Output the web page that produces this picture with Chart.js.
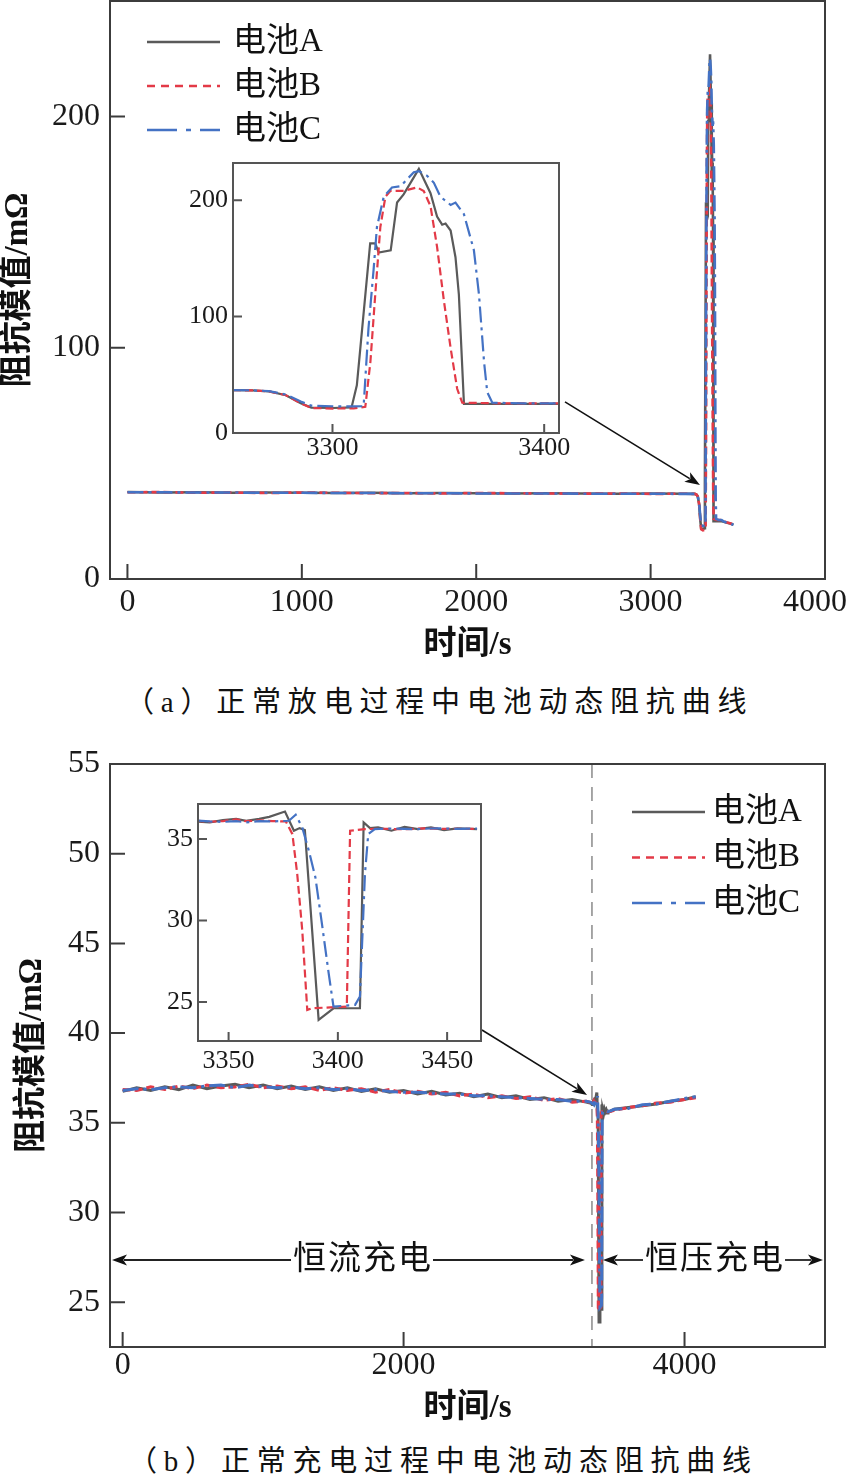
<!DOCTYPE html>
<html>
<head>
<meta charset="utf-8">
<script src="https://cdn.jsdelivr.net/npm/chart.js@4.4.0/dist/chart.umd.min.js"></script>
<style>
  html, body { margin: 0; padding: 0; background: #fff; }
  #page { position: relative; width: 851px; height: 1481px; overflow: hidden; }
  canvas { position: absolute; }
  .cap { position: absolute; font-family: 'Liberation Serif', 'Noto Sans CJK SC', serif; font-size: 29px;
         letter-spacing: 6.8px; color: #111; white-space: nowrap; line-height: 1; }
</style>
</head>
<body>
<div id="page">
  <canvas id="mainA" style="left:0;top:0" width="851" height="675"></canvas>
  <canvas id="insetA" style="left:160px;top:150px" width="420" height="320"></canvas>
  <div class="cap" style="left:125px;top:688px">（a）正常放电过程中电池动态阻抗曲线</div>
  <canvas id="mainB" style="left:0;top:740px" width="851" height="690"></canvas>
  <canvas id="insetB" style="left:150px;top:790px" width="350" height="300"></canvas>
  <div class="cap" style="left:128px;top:1447px">（b）正常充电过程中电池动态阻抗曲线</div>
</div>
<script>
// ---- (a) 放电 ----
const seriesNames = ["电池A", "电池B", "电池C"];

const aPreTime = [0, 200, 400, 600, 800, 1000, 1200, 1400, 1600, 1800, 2000, 2200, 2400, 2600, 2800, 3000, 3200];
const aPreA = [37.6, 37.4, 37.5, 37.3, 37.4, 37.3, 37.2, 37.3, 37.1, 37.2, 37.1, 37.0, 37.1, 37.0, 36.9, 37.0, 36.9];
const aPreB = [37.5, 37.6, 37.3, 37.4, 37.2, 37.4, 37.3, 37.1, 37.2, 37.0, 37.2, 37.1, 37.0, 36.9, 37.0, 36.8, 36.9];
const aPreC = [37.5, 37.5, 37.4, 37.4, 37.3, 37.3, 37.2, 37.2, 37.1, 37.1, 37.0, 37.0, 37.0, 36.9, 36.9, 36.9, 36.8];

const aZoomTimeA = [3253, 3262, 3270, 3278, 3285, 3290, 3300, 3309, 3311.5, 3317.8, 3320.2, 3321.8, 3327.5, 3330.5, 3333.6, 3340.8, 3346.3, 3349.4, 3351.8, 3353.4, 3355.8, 3358.1, 3359.7, 3362.1, 3380, 3407];
const aZoomA     = [36.8, 36.6, 35.8, 32.5, 25.5, 21.8, 21.5, 22.0, 41, 163, 163, 155, 157, 198, 205, 227, 206, 186, 179, 180, 174, 151, 119, 25, 25, 25];
const aZoomTimeB = [3253, 3262, 3270, 3278, 3285, 3290, 3300, 3310, 3315.5, 3317.9, 3320.2, 3322.6, 3325, 3327.3, 3333.6, 3340, 3343.1, 3346.3, 3349.4, 3352.6, 3355.8, 3358.9, 3361.3, 3380, 3407];
const aZoomB     = [36.8, 36.6, 35.8, 32.5, 25.5, 21.5, 21.0, 21.2, 22.5, 61, 119, 177, 203, 208, 208, 211, 208, 195, 160, 114, 73, 38, 26, 25.5, 25.5];
const aZoomTimeC = [3253, 3262, 3270, 3278, 3285, 3290, 3300, 3310, 3314.7, 3317, 3319.4, 3321, 3324.2, 3328.1, 3332.1, 3338.4, 3340.8, 3344.7, 3347.9, 3351, 3355.8, 3358.1, 3362.1, 3366.8, 3369.2, 3371.6, 3373.1, 3375.5, 3390, 3407];
const aZoomC     = [36.8, 36.7, 36.0, 33.0, 27.0, 23.5, 23.0, 22.8, 23, 90, 140, 177, 203, 211, 212, 224, 225, 221, 215, 203, 196, 198, 188, 157, 119, 61, 35, 26, 25.5, 25.5];

const aPostTime = [3420, 3440, 3460, 3475];
const aPostA = [24.8, 24.3, 23.9, 23.5];
const aPostB = [24.9, 24.4, 24.0, 23.6];
const aPostC = [24.8, 24.4, 23.9, 23.4];

const aXTicks = [0, 1000, 2000, 3000, 4000];
const aYTicks = [0, 100, 200];
const aInsetXTicks = [3300, 3400];
const aInsetYTicks = [0, 100, 200];

// ---- (b) 充电 ----
const bPreTime = [0, 100, 200, 300, 400, 500, 600, 700, 800, 900, 1000, 1100, 1200, 1300, 1400, 1500, 1600,
                  1700, 1800, 1900, 2000, 2100, 2200, 2300, 2400, 2500, 2600, 2700, 2800, 2900, 3000, 3100, 3200, 3300];
const bPreA = [36.75, 36.95, 36.8, 37.0, 36.85, 37.1, 36.9, 37.05, 37.15, 36.95, 37.1, 36.9, 37.05, 36.85, 37.0, 36.8, 36.95,
               36.75, 36.9, 36.7, 36.8, 36.6, 36.75, 36.55, 36.65, 36.45, 36.6, 36.4, 36.5, 36.3, 36.4, 36.2, 36.3, 36.15];
const bPreB = [36.85, 36.8, 37.0, 36.85, 37.05, 36.9, 37.1, 36.95, 37.0, 37.15, 36.95, 37.05, 36.9, 37.0, 36.8, 36.95, 36.8,
               36.9, 36.7, 36.85, 36.65, 36.75, 36.6, 36.7, 36.5, 36.6, 36.4, 36.5, 36.35, 36.45, 36.25, 36.35, 36.15, 36.2];
const bPreC = [36.8, 36.9, 36.85, 36.95, 37.0, 36.95, 37.05, 37.1, 36.95, 37.1, 37.0, 36.95, 37.0, 36.9, 36.95, 36.85, 36.9,
               36.8, 36.85, 36.75, 36.7, 36.7, 36.65, 36.6, 36.6, 36.5, 36.5, 36.45, 36.4, 36.35, 36.3, 36.3, 36.2, 36.2];

const bZoomTimeA = [3335.3, 3341.4, 3347.4, 3353.5, 3358, 3364, 3368.6, 3375.8, 3379.9, 3382.5, 3384.9, 3391.2, 3398, 3410.1, 3411.8, 3414.7, 3418.4, 3424.5, 3430.5, 3436.6, 3442.6, 3448.6, 3454.7, 3463.7];
const bZoomA     = [36.08, 36.02, 36.16, 36.24, 36.12, 36.24, 36.36, 36.69, 35.51, 35.67, 35.55, 23.9, 24.61, 24.61, 36.02, 35.67, 35.71, 35.51, 35.75, 35.61, 35.71, 35.55, 35.65, 35.61];
const bZoomTimeB = [3335.3, 3341.4, 3347.4, 3353.5, 3358, 3364, 3370, 3376.2, 3379.2, 3381.4, 3383.7, 3386, 3388.2, 3404.1, 3405.6, 3412.4, 3420, 3430, 3440, 3450, 3463.7];
const bZoomB     = [36.12, 36.06, 36.1, 36.2, 36.1, 36.14, 36.1, 36.08, 35.3, 32.86, 29.4, 24.51, 24.61, 24.71, 35.51, 35.61, 35.63, 35.6, 35.65, 35.62, 35.62];
const bZoomTimeC = [3335.3, 3341.4, 3347.4, 3353.5, 3358, 3364, 3370, 3377.6, 3380.7, 3383.7, 3386.7, 3389.7, 3392.7, 3395.8, 3398, 3407.9, 3410.1, 3412.4, 3413.9, 3416.9, 3425, 3435, 3445, 3455, 3463.7];
const bZoomC     = [36.14, 36.08, 36.05, 36.1, 36.02, 36.1, 36.08, 36.12, 36.49, 35.71, 34.29, 32.66, 29.81, 26.75, 24.71, 24.82, 25.33, 32.86, 35.31, 35.61, 35.65, 35.6, 35.66, 35.62, 35.64];

const bPostTime = [3500, 3600, 3700, 3800, 3900, 4000, 4080];
const bPostA = [35.75, 35.85, 35.95, 36.05, 36.2, 36.3, 36.45];
const bPostB = [35.7, 35.85, 35.95, 36.1, 36.15, 36.3, 36.4];
const bPostC = [35.75, 35.8, 36.0, 36.05, 36.2, 36.35, 36.45];

const bXTicks = [0, 2000, 4000];
const bYTicks = [25, 30, 35, 40, 45, 50, 55];
const bInsetXTicks = [3350, 3400, 3450];
const bInsetYTicks = [25, 30, 35];

// ---- 样式 ----
const FONT = "'Liberation Serif', 'Noto Sans CJK SC', serif";
const COLORS = ["#5a5a5a", "#e33a47", "#4472c4"];
const DASHES = [[], [8, 4], [16, 5, 3, 5]];
const LEGEND_DASHES = [[], [8, 6], [30, 9, 5, 9]];
const ORDERS = [2, 1, 0];

const pts = (ts, vs) => ts.map((t, i) => ({ x: t, y: vs[i] }));

function makeSets(list, width) {
  return list.map((data, i) => ({
    label: seriesNames[i],
    data: data,
    borderColor: COLORS[i],
    borderDash: DASHES[i],
    borderWidth: width,
    pointRadius: 0,
    tension: 0,
    order: ORDERS[i]
  }));
}

function arrow(ctx, x1, y1, x2, y2) {
  const ang = Math.atan2(y2 - y1, x2 - x1), L = 15, W = 5.5;
  const bx = x2 - L * Math.cos(ang), by = y2 - L * Math.sin(ang);
  ctx.beginPath(); ctx.moveTo(x1, y1); ctx.lineTo(bx + 3 * Math.cos(ang), by + 3 * Math.sin(ang)); ctx.stroke();
  ctx.beginPath();
  ctx.moveTo(x2, y2);
  ctx.lineTo(bx - W * Math.sin(ang), by + W * Math.cos(ang));
  ctx.lineTo(x2 - 0.75 * L * Math.cos(ang), y2 - 0.75 * L * Math.sin(ang));
  ctx.lineTo(bx + W * Math.sin(ang), by - W * Math.cos(ang));
  ctx.closePath(); ctx.fill();
}

// 边框 + 朝内刻度 + 刻度文字
const frameTicks = {
  id: 'frameTicks',
  beforeDatasetsDraw(chart, args, o) {
    const { ctx, chartArea: a, scales: { x } } = chart;
    if (o.fill) { ctx.save(); ctx.fillStyle = '#fff'; ctx.fillRect(a.left, a.top, a.right - a.left, a.bottom - a.top); ctx.restore(); }
    if (o.vline !== undefined) {
      const px = x.getPixelForValue(o.vline);
      ctx.save(); ctx.strokeStyle = '#8a8a8a'; ctx.lineWidth = 1.5; ctx.setLineDash([14, 9]);
      ctx.beginPath(); ctx.moveTo(px, a.top); ctx.lineTo(px, a.bottom); ctx.stroke(); ctx.restore();
    }
  },
  afterDatasetsDraw(chart, args, o) {
    const { ctx, chartArea: a, scales: { x, y } } = chart;
    ctx.save();
    ctx.strokeStyle = o.color; ctx.lineWidth = 2;
    ctx.strokeRect(a.left, a.top, a.right - a.left, a.bottom - a.top);
    ctx.beginPath();
    x.ticks.forEach(t => {
      const px = x.getPixelForValue(t.value);
      if (px > a.left + 3 && px < a.right - 3) { ctx.moveTo(px, a.bottom); ctx.lineTo(px, a.bottom - o.tickLen); }
    });
    y.ticks.forEach(t => {
      const py = y.getPixelForValue(t.value);
      if (py > a.top + 3 && py < a.bottom - 3) { ctx.moveTo(a.left, py); ctx.lineTo(a.left + o.tickLen, py); }
    });
    ctx.stroke();
    ctx.fillStyle = '#1a1a1a';
    ctx.font = o.size + 'px ' + FONT;
    ctx.textAlign = 'center'; ctx.textBaseline = 'middle';
    x.ticks.forEach(t => {
      const s = String(t.value), w = ctx.measureText(s).width;
      const px = Math.min(x.getPixelForValue(t.value), chart.width - 4 - w / 2);
      ctx.fillText(s, px, a.bottom + o.xOff);
    });
    ctx.textAlign = 'right';
    y.ticks.forEach(t => ctx.fillText(String(t.value), a.left - o.yPad, y.getPixelForValue(t.value)));
    ctx.restore();
  }
};

// 图例（画在绘图区内）
const lineLegend = {
  id: 'lineLegend',
  afterDraw(chart, args, o) {
    if (!o.show) return;
    const { ctx, chartArea: a } = chart;
    ctx.save();
    ctx.font = o.size + 'px ' + FONT;
    ctx.textAlign = 'left'; ctx.textBaseline = 'middle';
    chart.data.datasets.forEach((ds, i) => {
      const yy = a.top + o.dy + i * o.rowH, x0 = a.left + o.dx;
      ctx.strokeStyle = ds.borderColor; ctx.lineWidth = 2.4; ctx.setLineDash(LEGEND_DASHES[i]);
      ctx.beginPath(); ctx.moveTo(x0, yy); ctx.lineTo(x0 + o.len, yy); ctx.stroke();
      ctx.fillStyle = '#111';
      ctx.fillText(ds.label, x0 + o.len + o.gap, yy);
    });
    ctx.restore();
  }
};

// 箭头与阶段标注
const notes = {
  id: 'notes',
  afterDatasetsDraw(chart, args, o) {
    const { ctx, chartArea: a, scales: { x, y } } = chart;
    ctx.save();
    ctx.strokeStyle = '#111'; ctx.fillStyle = '#111'; ctx.lineWidth = 1.6;
    if (o.arrow) {
      arrow(ctx, x.getPixelForValue(o.arrow.from[0]), y.getPixelForValue(o.arrow.from[1]),
                 x.getPixelForValue(o.arrow.to[0]), y.getPixelForValue(o.arrow.to[1]));
    }
    if (o.phase) {
      const p = o.phase, yy = y.getPixelForValue(p.y), xs = x.getPixelForValue(p.split);
      ctx.font = '33px ' + FONT; ctx.textAlign = 'center'; ctx.textBaseline = 'middle';
      ctx.letterSpacing = '2px';
      ctx.strokeStyle = '#222'; ctx.fillStyle = '#111'; ctx.lineWidth = 1.8;
      const c1 = x.getPixelForValue(p.leftAt), w1 = ctx.measureText(p.leftText).width;
      const c2 = x.getPixelForValue(p.rightAt), w2 = ctx.measureText(p.rightText).width;
      ctx.fillText(p.leftText, c1 + 1, yy);
      ctx.fillText(p.rightText, c2 + 1, yy);
      arrow(ctx, c1 - w1 / 2 - 1, yy, a.left + 2, yy);
      arrow(ctx, c1 + w1 / 2 + 1, yy, xs - 7, yy);
      arrow(ctx, c2 - w2 / 2 - 1, yy, xs + 11, yy);
      arrow(ctx, c2 + w2 / 2 + 1, yy, a.right - 2, yy);
    }
    ctx.restore();
  }
};

function makeChart(id, c) {
  const title = (text, pad) => ({ display: !!text, text: text, color: '#111',
    font: { family: FONT, size: 33, weight: 'bold', lineHeight: 1 }, padding: pad });
  return new Chart(document.getElementById(id), {
    type: 'line',
    data: { datasets: makeSets(c.series, c.lineWidth) },
    options: {
      responsive: false,
      animation: false,
      layout: { padding: c.padding },
      scales: {
        x: {
          type: 'linear', min: c.xRange[0], max: c.xRange[1],
          grid: { display: false }, border: { display: false }, ticks: { display: false },
          afterBuildTicks: s => { s.ticks = c.xTicks.map(v => ({ value: v })); },
          afterFit: s => { s.height = c.xH; s.paddingLeft = 0; s.paddingRight = 0; },
          title: title(c.xTitle, { top: 0, bottom: c.xTitlePad || 0 })
        },
        y: {
          type: 'linear', min: c.yRange[0], max: c.yRange[1],
          grid: { display: false }, border: { display: false }, ticks: { display: false },
          afterBuildTicks: s => { s.ticks = c.yTicks.map(v => ({ value: v })); },
          afterFit: s => { s.width = c.yW; s.paddingTop = 0; s.paddingBottom = 0; },
          title: title(c.yTitle, { top: c.yTitlePad || 0, bottom: 0 })
        }
      },
      plugins: {
        legend: { display: false },
        tooltip: { enabled: false },
        frameTicks: c.frame,
        lineLegend: c.legend || { show: false },
        notes: c.notes || {}
      }
    },
    plugins: [frameTicks, lineLegend, notes]
  });
}

// (a) 主图
makeChart('mainA', {
  series: [
    [...pts(aPreTime, aPreA), ...pts(aZoomTimeA, aZoomA), ...pts(aPostTime, aPostA)],
    [...pts(aPreTime, aPreB), ...pts(aZoomTimeB, aZoomB), ...pts(aPostTime, aPostB)],
    [...pts(aPreTime, aPreC), ...pts(aZoomTimeC, aZoomC), ...pts(aPostTime, aPostC)]
  ],
  lineWidth: 2.6,
  padding: { left: 0, top: 1, right: 26, bottom: 0 },
  xRange: [-100, 4000], yRange: [0, 250], xTicks: aXTicks, yTicks: aYTicks,
  xH: 96, yW: 110, xTitle: '时间/s', xTitlePad: 13, yTitle: '阻抗模值/mΩ', yTitlePad: 2,
  frame: { color: '#3c3c3c', tickLen: 15, size: 32, xOff: 24, yPad: 10 },
  legend: { show: true, dx: 37, dy: 41, rowH: 44, len: 73, gap: 13, size: 33 },
  notes: { arrow: { from: [2509, 76.6], to: [3283, 40.7] } }
});

// (a) 局部放大
makeChart('insetA', {
  series: [pts(aZoomTimeA, aZoomA), pts(aZoomTimeB, aZoomB), pts(aZoomTimeC, aZoomC)],
  lineWidth: 2.2,
  padding: { left: 0, top: 13, right: 21, bottom: 0 },
  xRange: [3253, 3407], yRange: [0, 232], xTicks: aInsetXTicks, yTicks: aInsetYTicks,
  xH: 37, yW: 73,
  frame: { color: '#555', tickLen: 9, size: 26, xOff: 15.5, yPad: 5, fill: true }
});

// (b) 主图
makeChart('mainB', {
  series: [
    [...pts(bPreTime, bPreA), ...pts(bZoomTimeA, bZoomA), ...pts(bPostTime, bPostA)],
    [...pts(bPreTime, bPreB), ...pts(bZoomTimeB, bZoomB), ...pts(bPostTime, bPostB)],
    [...pts(bPreTime, bPreC), ...pts(bZoomTimeC, bZoomC), ...pts(bPostTime, bPostC)]
  ],
  lineWidth: 3,
  padding: { left: 0, top: 24, right: 26, bottom: 0 },
  xRange: [-90, 5000], yRange: [22.5, 55], xTicks: bXTicks, yTicks: bYTicks,
  xH: 83, yW: 110, xTitle: '时间/s', xTitlePad: 5, yTitle: '阻抗模值/mΩ', yTitlePad: 16,
  frame: { color: '#3c3c3c', tickLen: 15, size: 32, xOff: 19, yPad: 10, vline: 3341 },
  legend: { show: true, dx: 522, dy: 48, rowH: 45.5, len: 73, gap: 7, size: 33 },
  notes: {
    arrow: { from: [2558, 40.17], to: [3306, 36.55] },
    phase: { y: 27.35, split: 3341, leftText: '恒流充电', leftAt: 1704, rightText: '恒压充电', rightAt: 4210 }
  }
});

// (b) 局部放大
makeChart('insetB', {
  series: [pts(bZoomTimeA, bZoomA), pts(bZoomTimeB, bZoomB), pts(bZoomTimeC, bZoomC)],
  lineWidth: 2.2,
  padding: { left: 0, top: 14, right: 19, bottom: 0 },
  xRange: [3336, 3465.5], yRange: [22.6, 37.15], xTicks: bInsetXTicks, yTicks: bInsetYTicks,
  xH: 49, yW: 48,
  frame: { color: '#555', tickLen: 9, size: 26, xOff: 20, yPad: 5, fill: true }
});
</script>
</body>
</html>
